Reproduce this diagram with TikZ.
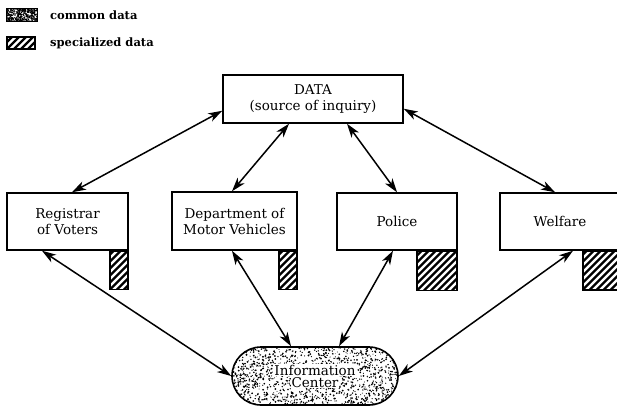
\documentclass[tikz,border=0pt]{standalone}
\usepackage{fontspec}
\setmainfont{DejaVu Serif}
\usetikzlibrary{arrows.meta}

\begin{document}
\begin{tikzpicture}[x=1pt,y=-1pt,
  unitbox/.style={draw, line width=1.5pt, inner sep=0pt, align=center,
    font=\fontsize{13.5}{16}\selectfont},
  hatched/.style={draw, line width=1.5pt, inner sep=0pt,
    path picture={\foreach \k in {-49,-42,...,49}
      {\draw[line width=2.2pt] ([xshift=\k]path picture bounding box.south west) -- ++(60,-60);}}},
  stipple/.style n args={3}{path picture={\foreach \i in {1,...,#1}
      {\fill ([shift={({rnd*#2},{-rnd*#3})}]path picture bounding box.south west)
        circle ({0.45+0.6*rnd});}}},
  link/.style={{Stealth[length=14pt,width=9pt,inset=4pt]}-{Stealth[length=14pt,width=9pt,inset=4pt]},
    line width=1.5pt},
  legendtext/.style={anchor=west, inner sep=0pt, font=\fontsize{11.5}{13}\selectfont\bfseries}]
\pgfmathsetseed{4242}
\clip (0,0) rectangle (617,407);

% legend
\node[draw, line width=1.2pt, inner sep=0pt, minimum width=31, minimum height=13,
  stipple={380}{33}{15}] (legc) at (22,15) {};
\node[legendtext] (legct) at (50,15) {common data};
\node[hatched, line width=1.2pt, minimum width=28, minimum height=12] (legs) at (21,43) {};
\node[legendtext] (legst) at (50,43) {specialized data};

% data source
\node[unitbox, minimum width=180, minimum height=48] (data) at (313,99)
  {DATA\\(source of inquiry)};

% agencies
\node[unitbox, minimum width=121, minimum height=57] (reg) at (67.5,221.5)
  {Registrar\\of Voters};
\node[unitbox, minimum width=125, minimum height=58] (dmv) at (234.5,221)
  {Department of\\Motor Vehicles};
\node[unitbox, minimum width=120, minimum height=57] (pol) at (397,221.5) {Police};
\node[unitbox, minimum width=120, minimum height=57] (wel) at (560,221.5) {Welfare};

% specialized data of each agency
\node[hatched, minimum width=18, minimum height=38, anchor=north east] (regh) at (reg.south east) {};
\node[hatched, minimum width=18, minimum height=38, anchor=north east] (dmvh) at (dmv.south east) {};
\node[hatched, minimum width=40, minimum height=39, anchor=north east] (polh) at (pol.south east) {};
\node[hatched, minimum width=40, minimum height=39, anchor=north west] (welh) at (582,250) {};

% shared information center
\node[draw, line width=1.6pt, rounded corners=29pt, minimum width=166, minimum height=58,
  inner sep=0pt, align=center, font=\fontsize{13.5}{15}\selectfont,
  stipple={1600}{170}{62}] (info) at (315,376)
  {\setlength\fboxsep{1pt}\colorbox{white}{Information}\\[-3pt]
   \setlength\fboxsep{1pt}\colorbox{white}{Center}};

% inquiries between the source and the agencies
\draw[link] ([yshift=13]data.south west) -- ([xshift=4.5]reg.north);
\draw[link] ([xshift=-24]data.south) -- ([xshift=-2.5]dmv.north);
\draw[link] ([xshift=34]data.south) -- (pol.north);
\draw[link] ([yshift=15]data.south east) -- ([xshift=-5]wel.north);

% exchange of common data with the information center
\draw[link] ([xshift=-25.5]reg.south) -- (info.west);
\draw[link] ([xshift=-2.5]dmv.south) -- ([xshift=-24]info.north);
\draw[link] ([xshift=-4]pol.south) -- ([xshift=24]info.north);
\draw[link] ([xshift=13]wel.south) -- (info.east);
\end{tikzpicture}
\end{document}
